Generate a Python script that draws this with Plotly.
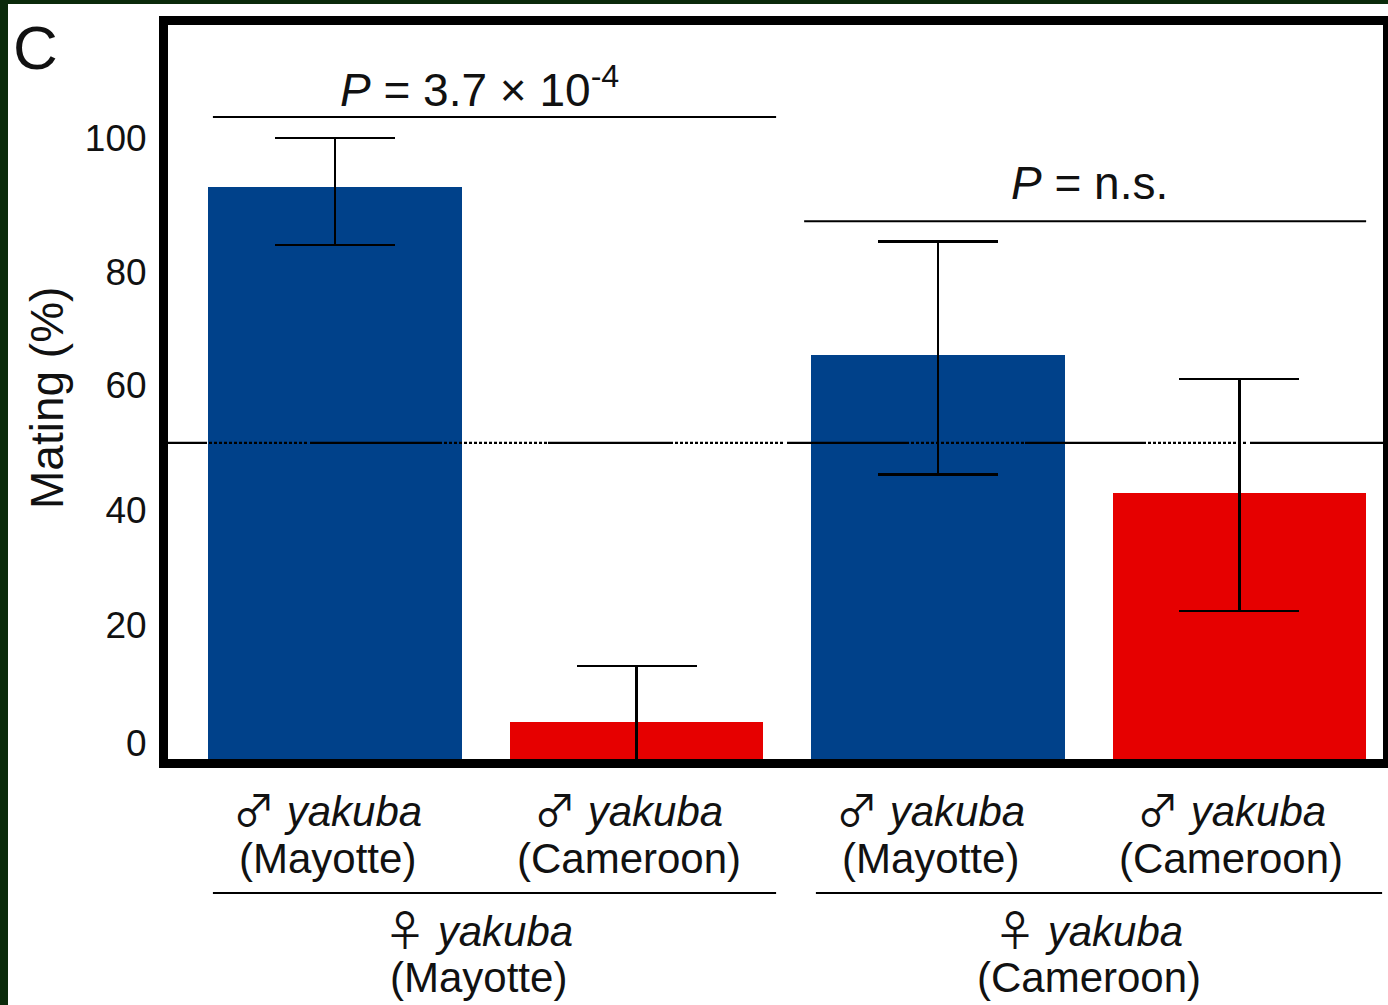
import plotly.graph_objects as go

# ---------------- data ----------------
male_sym = "♂"
female_sym = "♀"
species = "yakuba"
male_origin = ["(Mayotte)", "(Cameroon)", "(Mayotte)", "(Cameroon)"]
female_origin = ["(Mayotte)", "(Cameroon)"]
mating_pct = [92.1, 6.0, 65.1, 42.8]
err_plus = [7.9, 9.0, 18.2, 18.4]
err_minus = [9.3, 7.0, 19.3, 19.0]
bar_colors = ["#00418a", "#e60000", "#00418a", "#e60000"]
p_texts = ["<i>P</i> = 3.7 × 10<sup>-4</sup>", "<i>P</i> = n.s."]
chance_level = 50.9
tick_vals = [2.6, 21.6, 40.1, 60.2, 78.4, 100]
tick_text = ["0", "20", "40", "60", "80", "100"]

# ---------------- layout constants ----------------
W, H = 1388, 1005
ML, MR, MT, MB = 168, 5, 25, 246
FONT = "Liberation Sans, Arial, Helvetica, sans-serif"
SYMFONT = "Noto Sans CJK JP"
x_pos = list(range(len(mating_pct)))


def py2paper(py):
    return (H - MB - py) / (H - MT - MB)


def px2paper(px):
    return (px - ML) / (W - ML - MR)


def sym_label(sym):
    return f"<span style=\"font-family:'{SYMFONT}'\">{sym}</span> <i>{species}</i>"


fig = go.Figure()
fig.add_trace(go.Bar(
    x=x_pos, y=mating_pct, width=0.842,
    marker=dict(color=bar_colors, line=dict(width=0)),
    error_y=dict(type="data", symmetric=False, array=err_plus, arrayminus=err_minus,
                 color="black", thickness=2.5, width=60),
    showlegend=False,
))

# chance line with mixed solid / dotted look
segments = [("s", 39), ("d", 103), ("s", 132), ("d", 106), ("s", 125), ("d", 114),
            ("s", 122), ("d", 116), ("s", 121), ("d", 104), ("s", 133)]
runs = []
for kind, L in segments:
    if kind == "s":
        runs.append([True, L])
    else:
        n = L // 5
        for _ in range(n):
            runs.append([False, 2])
            runs.append([True, 3])
        rem = L - 5 * n
        if rem:
            runs.append([False, rem])
merged = []
for on, L in runs:
    if merged and merged[-1][0] == on:
        merged[-1][1] += L
    else:
        merged.append([on, L])
if not merged[0][0]:
    merged.insert(0, [True, 0])
if len(merged) % 2 == 1:
    merged.append([False, 20])
dash_str = ",".join(f"{L}px" for _, L in merged)

shapes = [
    dict(type="line", xref="paper", yref="y", x0=0, x1=1, y0=chance_level, y1=chance_level,
         line=dict(color="black", width=2.4, dash=dash_str), layer="above"),
    dict(type="rect", xref="paper", yref="paper", x0=px2paper(8), x1=px2paper(W + 5),
         y0=py2paper(H + 5), y1=py2paper(4), fillcolor="white", line=dict(width=0), layer="below"),
]

sig_lines = [(-0.405, 1.463, 103.4), (1.556, 3.42, 86.6)]
p_pos = [(0.478, 108.2), (2.503, 92.8)]
for (xa, xb, yy) in sig_lines:
    shapes.append(dict(type="line", xref="x", yref="y", x0=xa, x1=xb, y0=yy, y1=yy,
                       line=dict(color="black", width=2)))

group_lines = [(-0.405, 1.463), (1.595, 3.473)]
for xa, xb in group_lines:
    shapes.append(dict(type="line", xref="x", yref="paper", x0=xa, x1=xb,
                       y0=py2paper(893), y1=py2paper(893), line=dict(color="black", width=2)))

ann = []


def add_text(x, y, text, size, xref="x", yref="paper", **kw):
    ann.append(dict(x=x, y=y, xref=xref, yref=yref, text=text, showarrow=False,
                    xanchor="center", yanchor="middle",
                    font=dict(size=size, color="#111", family=FONT), **kw))


for (xx, yy), t in zip(p_pos, p_texts):
    add_text(xx, yy, t, 46, yref="y")

for i in range(len(mating_pct)):
    add_text(x_pos[i], py2paper(807), sym_label(male_sym), 42, xshift=-8)
    add_text(x_pos[i], py2paper(858), male_origin[i], 42, xshift=-8)

group_x = [0.475, 2.50]
for gx, fo in zip(group_x, female_origin):
    add_text(gx, py2paper(927), sym_label(female_sym), 42)
    add_text(gx, py2paper(977), fo, 42)

add_text(px2paper(35), py2paper(48), "C", 62, xref="paper")
add_text(px2paper(47), py2paper(398), "Mating (%)", 46, xref="paper", textangle=-90)

fig.update_layout(
    width=W, height=H, autosize=False,
    margin=dict(l=ML, r=MR, t=MT, b=MB, pad=0),
    paper_bgcolor="#0a2a0a",
    plot_bgcolor="white",
    shapes=shapes,
    annotations=ann,
    bargap=0,
    xaxis=dict(range=[-0.554, 3.476], showticklabels=False, ticks="", showgrid=False,
               zeroline=False, showline=True, linecolor="black", linewidth=9, mirror=True,
               automargin=False),
    yaxis=dict(range=[0, 118.2], tickvals=tick_vals, ticktext=tick_text, ticks="",
               showgrid=False, zeroline=False, showline=True, linecolor="black", linewidth=9,
               mirror=True, ticklabelstandoff=5, automargin=False,
               tickfont=dict(size=37, color="#111", family=FONT)),
)

fig.write_html("out.html",
               config={"displayModeBar": False, "responsive": False},
               post_script="document.body.style.margin='0';document.body.style.overflow='hidden';")
